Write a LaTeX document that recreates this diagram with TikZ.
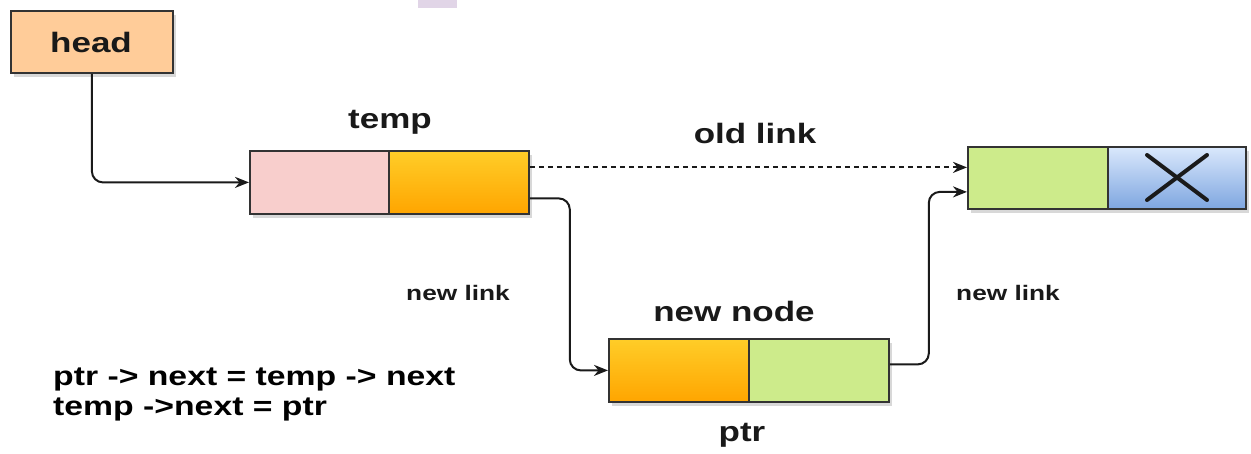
\documentclass[tikz,border=0pt]{standalone}
\usepackage{fontspec}
\setmainfont{Liberation Sans}[FakeStretch=1.25]
\usetikzlibrary{shadows,arrows.meta}
\definecolor{peach}{HTML}{FFCC99}
\definecolor{pinkf}{HTML}{F8CECC}
\definecolor{orangeT}{HTML}{FFCD28}
\definecolor{orangeB}{HTML}{FFA500}
\definecolor{greenf}{HTML}{CDEB8B}
\definecolor{blueT}{HTML}{DAE8FC}
\definecolor{blueB}{HTML}{7EA6E0}
\definecolor{edge}{HTML}{333333}
\definecolor{lnk}{HTML}{1A1A1A}
\definecolor{lav}{HTML}{E1D5E7}
\tikzset{
  cell/.style={draw=edge, line width=1.8pt, minimum width=140pt, minimum height=63pt,
    anchor=north west, inner sep=0pt,
    drop shadow={shadow xshift=3pt, shadow yshift=-4pt, opacity=0.3, fill=gray}},
  pinkcell/.style={cell, fill=pinkf},
  orangecell/.style={cell, top color=orangeT, bottom color=orangeB},
  greencell/.style={cell, fill=greenf},
  bluecell/.style={cell, top color=blueT, bottom color=blueB},
  lbl/.style={font=\bfseries\fontsize{28}{32}\selectfont, text=black!90, anchor=base, inner sep=0pt},
  smalllbl/.style={font=\bfseries\fontsize{21}{24}\selectfont, text=black!90, anchor=base, inner sep=0pt},
  codelbl/.style={font=\bfseries\fontsize{27}{30}\selectfont, text=black, anchor=base west, inner sep=0pt},
  link/.style={draw=lnk, line width=2pt, rounded corners=11pt, -{Stealth[length=14pt,width=11pt]}},
}
\begin{document}
\begin{tikzpicture}[x=1pt,y=-1pt]
\useasboundingbox[fill=white] (0,0) rectangle (1251,453);
% cut-off highlight at the top edge
\fill[lav] (418,0) rectangle (457,8);
% head
\node[cell, fill=peach, minimum width=162pt, minimum height=62pt] (head) at (10,10) {};
\node[lbl] (headt) at (91,52) {head};
% temp node
\node[pinkcell, minimum width=139pt] (tempL) at (249,150) {};
\node[orangecell] (tempR) at (388,150) {};
\node[lbl] (tempt) at (390,128) {temp};
% next node
\node[greencell, minimum height=62pt] (nxtL) at (967,146) {};
\node[bluecell, minimum width=138pt, minimum height=62pt] (nxtR) at (1107,146) {};
\draw[lnk, line width=4pt, line cap=round] (1147,155) -- (1207,200);
\draw[lnk, line width=4pt, line cap=round] (1147,200) -- (1207,155);
% new node
\node[orangecell] (newL) at (608,338) {};
\node[greencell] (newR) at (748,338) {};
\node[lbl] (newt) at (734,321) {new node};
\node[lbl] (ptrt) at (742,441) {ptr};
% connectors
\draw[link] (head.south) |- (tempL.west);
\draw[link, dashed, dash pattern=on 5pt off 4pt] ([yshift=15pt]tempR.east) -- ([yshift=15pt]tempR.east -| nxtL.west);
\draw[link] ([yshift=-16pt]tempR.east) -- ++(40,0) |- (newL.west);
\draw[link] ([yshift=6pt]newR.east) -- ++(39,0) |- ([yshift=-14pt]nxtL.west);
% labels
\node[lbl] (oldt) at (755,143) {old link};
\node[smalllbl] (nl1) at (458,300) {new link};
\node[smalllbl] (nl2) at (1008,300) {new link};
\node[codelbl] (c1) at (53,385) {ptr -> next = temp -> next};
\node[codelbl] (c2) at (53,415) {temp ->next = ptr};
\end{tikzpicture}
\end{document}
